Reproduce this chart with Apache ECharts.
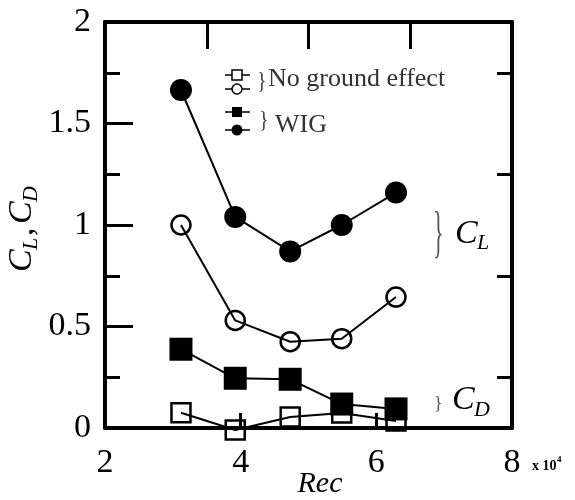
<!DOCTYPE html>
<html>
<head>
<meta charset="utf-8">
<script src="https://cdn.jsdelivr.net/npm/echarts@6/dist/echarts.min.js"></script>
<style>
  html, body { margin: 0; padding: 0; background: #fff; }
  #chart { width: 575px; height: 500px; }
</style>
</head>
<body>
<div id="chart"></div>
<script>
// Re (x10^4) at each test point
const reX = [3.12, 3.92, 4.73, 5.49, 6.29];
// lift / drag coefficients
const clWig = [1.665, 1.04, 0.87, 1.0, 1.16];
const clNoGround = [1.0, 0.53, 0.425, 0.44, 0.645];
const cdWig = [0.388, 0.245, 0.24, 0.118, 0.094];
const cdNoGround = [0.075, -0.01, 0.054, 0.074, 0.034];

const serif = 'Liberation Serif';
const pairs = ys => reX.map((x, i) => [x, ys[i]]);

const myChart = echarts.init(document.getElementById('chart'));

const openStyle = { color: 'rgba(0,0,0,0)', borderColor: '#000', borderWidth: 2.5 };
const fillStyle = { color: '#000', borderColor: '#000', borderWidth: 0 };

function mkSeries(name, ys, symbol, size, style) {
  return {
    name: name,
    type: 'line',
    data: pairs(ys),
    symbol: symbol,
    symbolSize: size,
    showSymbol: true,
    clip: false,
    lineStyle: { color: '#000', width: 2 },
    itemStyle: style,
    emphasis: { disabled: true },
    animation: false
  };
}

const txt = (x, y, text, size, opts) => Object.assign({
  type: 'text', x: x, y: y,
  style: Object.assign({
    text: text, fontFamily: serif, fontSize: size, fill: '#000',
    verticalAlign: 'middle', align: 'left'
  }, (opts && opts.style) || {})
}, opts ? { scaleX: opts.scaleX || 1, scaleY: opts.scaleY || 1 } : {});

const tickLine = { color: '#000', width: 3 };
const frameLine = { onZero: false, lineStyle: { color: '#000', width: 4 } };

const option = {
  backgroundColor: '#fff',
  animation: false,
  grid: { left: 105, right: 63, top: 22, bottom: 72, containLabel: false },
  xAxis: [
    {
      type: 'value', min: 2, max: 8, interval: 2, position: 'bottom',
      axisLine: frameLine,
      axisTick: { inside: true, length: 15, lineStyle: tickLine },
      axisLabel: { color: '#000', fontFamily: serif, fontSize: 34, margin: 18 },
      splitLine: { show: false }
    },
    {
      // top frame: ticks every 1.5 counted from 2
      type: 'value', min: 2, max: 8, interval: 1.5, position: 'top',
      axisLine: frameLine,
      axisTick: { inside: true, length: 27, lineStyle: tickLine },
      axisLabel: { show: false },
      splitLine: { show: false }
    }
  ],
  yAxis: [
    {
      type: 'value', min: 0, max: 2, interval: 0.5, position: 'left',
      axisLine: Object.assign({ show: true }, frameLine),
      axisTick: { inside: true, length: 28, lineStyle: tickLine },
      minorTick: { show: true, splitNumber: 2, length: 15, lineStyle: tickLine },
      axisLabel: { color: '#000', fontFamily: serif, fontSize: 34, margin: 14 },
      splitLine: { show: false }
    },
    {
      // right frame: only the in-between ticks
      type: 'value', min: 0, max: 2, interval: 0.5, position: 'right',
      axisLine: Object.assign({ show: true }, frameLine),
      axisTick: { show: false, inside: true },
      minorTick: { show: true, splitNumber: 2, length: 15, lineStyle: tickLine },
      axisLabel: { show: false },
      splitLine: { show: false }
    }
  ],
  series: [
    mkSeries('CD no ground', cdNoGround, 'rect', 19, openStyle),
    mkSeries('CL no ground', clNoGround, 'circle', 19, openStyle),
    mkSeries('CD WIG', cdWig, 'rect', 23, fillStyle),
    mkSeries('CL WIG', clWig, 'circle', 22, fillStyle)
  ],
  graphic: [
    // legend
    { type: 'line', shape: { x1: 225, y1: 75, x2: 250, y2: 75 }, style: { stroke: '#000', lineWidth: 1.5 } },
    { type: 'rect', shape: { x: 232, y: 70, width: 10, height: 10 }, style: { fill: '#fff', stroke: '#000', lineWidth: 1.5 } },
    { type: 'line', shape: { x1: 225, y1: 89, x2: 250, y2: 89 }, style: { stroke: '#000', lineWidth: 1.5 } },
    { type: 'circle', shape: { cx: 237, cy: 89, r: 5 }, style: { fill: '#fff', stroke: '#000', lineWidth: 1.5 } },
    txt(257, 82, '}', 20, { style: { fill: '#444' }, scaleY: 1.2 }),
    txt(268, 79, 'No ground effect', 26, { style: { fill: '#333' } }),
    { type: 'line', shape: { x1: 225, y1: 112, x2: 250, y2: 112 }, style: { stroke: '#000', lineWidth: 1.5 } },
    { type: 'rect', shape: { x: 232, y: 107, width: 10, height: 10 }, style: { fill: '#000' } },
    { type: 'line', shape: { x1: 225, y1: 130, x2: 250, y2: 130 }, style: { stroke: '#000', lineWidth: 1.5 } },
    { type: 'circle', shape: { cx: 237, cy: 130, r: 5.5 }, style: { fill: '#000' } },
    txt(259, 121, '}', 20, { style: { fill: '#444' }, scaleY: 1.2 }),
    txt(275, 125, 'WIG', 26, { style: { fill: '#333' } }),
    // C_L / C_D brackets
    txt(433, 236, '}', 22, { style: { fill: '#555' }, scaleY: 2.6 }),
    txt(455, 234, 'C', 34, { style: { fontStyle: 'italic' } }),
    txt(477, 243, 'L', 22, { style: { fontStyle: 'italic' } }),
    txt(434, 404, '}', 18, { style: { fill: '#555' } }),
    txt(452, 400, 'C', 34, { style: { fontStyle: 'italic' } }),
    txt(474, 410, 'D', 22, { style: { fontStyle: 'italic' } }),
    // axis names
    { type: 'text', x: 320, y: 484, style: { text: 'Rec', fontFamily: serif, fontSize: 30, fontStyle: 'italic', fill: '#000', align: 'center', verticalAlign: 'middle' } },
    txt(532, 466, 'x 10', 14, { style: { fontWeight: 'bold' } }),
    txt(557, 460, '4', 9, { style: { fontWeight: 'bold' } }),
    {
      type: 'group', x: 22, y: 218, rotation: Math.PI / 2,
      children: [
        txt(-54, 0, 'C', 34, { style: { fontStyle: 'italic' } }),
        txt(-32, 9, 'L', 22, { style: { fontStyle: 'italic' } }),
        txt(-18, 2, ',', 34, {}),
        txt(-6, 0, 'C', 34, { style: { fontStyle: 'italic' } }),
        txt(16, 9, 'D', 22, { style: { fontStyle: 'italic' } })
      ]
    }
  ]
};

myChart.setOption(option);
</script>
</body>
</html>
